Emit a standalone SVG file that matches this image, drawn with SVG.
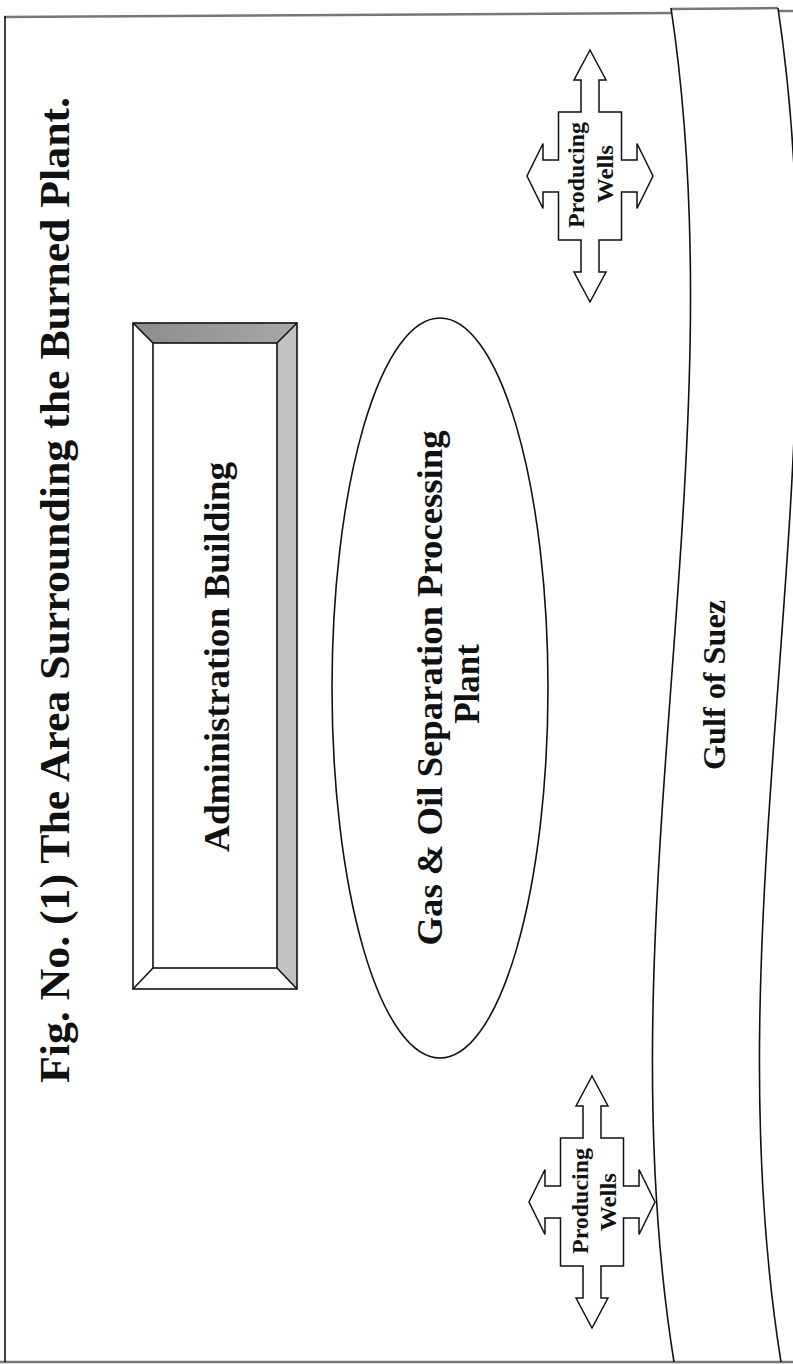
<svg xmlns="http://www.w3.org/2000/svg" width="793" height="1364" viewBox="0 0 793 1364">
<style>
.t{font-family:"Liberation Serif","Times New Roman",serif;font-weight:bold;fill:#111;text-anchor:middle}
.ln{fill:none;stroke:#111;stroke-width:1.6}
.frame{fill:none;stroke:#777;stroke-width:2.5}
.well{fill:#fff;stroke:#111;stroke-width:1.5;stroke-linejoin:miter}
</style>
<defs>
<linearGradient id="topBevel" x1="0" y1="0" x2="1" y2="0">
<stop offset="0" stop-color="#8c8c8c"/><stop offset="1" stop-color="#a8a8a8"/>
</linearGradient>
<polygon id="cross" points="0,-126 16,-96 9,-96 9,-64 31.5,-64 31.5,-16 47,-16 47,-32.5 63,0 47,32.5 47,16 31.5,16 31.5,64 9,64 9,96 16,96 0,126 -16,96 -9,96 -9,64 -31.5,64 -31.5,16 -47,16 -47,32.5 -63,0 -47,-32.5 -47,-16 -31.5,-16 -31.5,-64 -9,-64 -9,-96 -16,-96"/>
</defs>
<rect width="793" height="1364" fill="#fff"/>
<g id="frame">
<path class="frame" d="M4,17 L671,13 M671,9 L778,8 M778,11 L793,11"/>
<path class="frame" d="M0,1362 L793,1362"/>
<path class="ln" d="M5,16 L5,1362"/>
</g>
<g id="title">
<text class="t" font-size="43" textLength="986" lengthAdjust="spacingAndGlyphs" transform="translate(69,590) rotate(-90)">Fig. No. (1) The Area Surrounding the Burned Plant.</text>
</g>
<g id="admin-building">
<polygon points="133,323 297,323 277,343 153,343" fill="url(#topBevel)"/>
<polygon points="297,323 297,989 277,968 277,343" fill="#c2c2c2"/>
<rect class="ln" x="133" y="323" width="164" height="666"/>
<rect class="ln" x="153" y="343" width="124" height="625"/>
<path class="ln" d="M133,323 L153,343 M297,323 L277,343 M133,989 L153,968 M297,989 L277,968"/>
<text class="t" font-size="36" textLength="390" lengthAdjust="spacingAndGlyphs" transform="translate(229,657) rotate(-90)">Administration Building</text>
</g>
<g id="gas-plant">
<ellipse class="ln" cx="440" cy="688" rx="108" ry="370"/>
<text class="t" font-size="35" textLength="515" lengthAdjust="spacingAndGlyphs" transform="translate(442,688) rotate(-90)">Gas &amp; Oil Separation Processing</text>
<text class="t" font-size="35" transform="translate(479,684) rotate(-90)">Plant</text>
</g>
<g id="gulf">
<path class="ln" d="M671,8 C739,460 602,912 674,1362"/>
<path class="ln" d="M778,8 C846,460 709,912 781,1362"/>
<text class="t" font-size="32" textLength="170" lengthAdjust="spacingAndGlyphs" transform="translate(725,685) rotate(-90)">Gulf of Suez</text>
</g>
<g id="wells-north" transform="translate(590,176)">
<use href="#cross" class="well"/>
<text class="t" font-size="23" textLength="106" lengthAdjust="spacingAndGlyphs" transform="translate(-6,-1) rotate(-90)">Producing</text>
<text class="t" font-size="23" textLength="58" lengthAdjust="spacingAndGlyphs" transform="translate(23,-2) rotate(-90)">Wells</text>
</g>
<g id="wells-south" transform="translate(592,1202)">
<use href="#cross" class="well"/>
<text class="t" font-size="23" textLength="106" lengthAdjust="spacingAndGlyphs" transform="translate(-4,-1) rotate(-90)">Producing</text>
<text class="t" font-size="23" textLength="58" lengthAdjust="spacingAndGlyphs" transform="translate(24,0) rotate(-90)">Wells</text>
</g>
<g id="connectors"></g>
</svg>
